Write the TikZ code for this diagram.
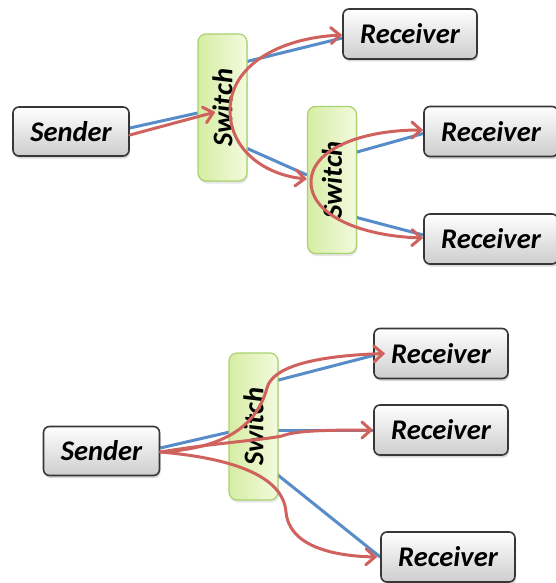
\documentclass[tikz,border=0pt]{standalone}
\usepackage{fontspec}
\setmainfont{Carlito}
\usetikzlibrary{arrows.meta,shadows,calc}
\definecolor{lnblue}{RGB}{88,140,200}
\definecolor{lnred}{RGB}{208,98,94}
\definecolor{boxborder}{RGB}{55,55,55}
\definecolor{boxbottom}{RGB}{205,205,205}
\definecolor{swborder}{RGB}{168,210,110}
\definecolor{swleft}{RGB}{214,237,164}
\definecolor{swright}{RGB}{243,250,222}
\pgfdeclarelayer{bg}
\pgfsetlayers{bg,main}
\tikzset{
  lbl/.style={font=\bfseries\itshape\fontsize{28.5}{28.5}\selectfont},
  hostbox/.style={lbl, draw=boxborder, line width=1.6pt, rounded corners=6pt,
    top color=white, bottom color=boxbottom, minimum height=49pt, inner sep=0pt,
    drop shadow={shadow xshift=1pt, shadow yshift=-2.5pt, opacity=0.3}},
  sendbox/.style={hostbox, minimum width=116pt},
  recvbox/.style={hostbox, minimum width=134pt, minimum height=50pt},
  switchbox/.style={draw=swborder, line width=1.2pt, rounded corners=8pt,
    left color=swleft, right color=swright, minimum width=49pt, minimum height=147pt,
    inner sep=0pt, drop shadow={shadow xshift=1pt, shadow yshift=-2.5pt, opacity=0.2}},
  switchtext/.style={lbl, rotate=90, inner sep=0pt},
  bluelink/.style={draw=lnblue, line width=3pt},
  redlink/.style={draw=lnred, line width=3pt, line cap=round,
    -{Straight Barb[length=9pt,width=16pt,line cap=round]}},
  redboth/.style={redlink, {Straight Barb[length=9pt,width=16pt,line cap=round]}-{Straight Barb[length=9pt,width=16pt,line cap=round]}}
}
\begin{document}
\begin{tikzpicture}[x=1pt,y=-1pt]
\useasboundingbox (0,0) rectangle (556,583);
% ---------- top network ----------
\node[sendbox] (snd1) at (71,131.5) {Sender};
\node[switchbox] (sw1) at (222.5,107.5) {};
\node[switchtext] (sw1t) at (sw1) {Switch};
\node[recvbox] (r1) at (410,34) {Receiver};
\node[switchbox] (sw2) at (332,180) {};
\node[switchtext] (sw2t) at (sw2) {Switch};
\node[recvbox] (r2) at (491,131.5) {Receiver};
\node[recvbox] (r3) at (491,239) {Receiver};
% ---------- bottom network ----------
\node[sendbox] (snd2) at (101.5,451) {Sender};
\node[switchbox] (sw3) at (253.5,426.5) {};
\node[switchtext] (sw3t) at (sw3) {Switch};
\node[recvbox] (r4) at (441,353.5) {Receiver};
\node[recvbox] (r5) at (441,430) {Receiver};
\node[recvbox] (r6) at (448,557) {Receiver};
% ---------- blue physical links ----------
\begin{pgfonlayer}{bg}
\draw[bluelink] ($(snd1.east)+(0,-3.5)$) -- (sw1.center);
\draw[bluelink] ($(sw1.center)+(0,-40)$) -- ($(r1.west)+(0,4)$);
\draw[bluelink] ($(sw1.center)+(0,30)$) -- ($(sw2.west)+(0,-5)$);
\draw[bluelink] ($(sw2.center)+(0,-21)$) -- ($(r2.west)+(0,2)$);
\draw[bluelink] ($(sw2.center)+(0,31)$) -- ($(r3.west)+(0,-4)$);
\draw[bluelink] ($(snd2.east)+(0,-3)$) -- (sw3.center);
\draw[bluelink] ($(sw3.center)+(0,-40)$) -- ($(r4.west)+(0,2)$);
\draw[bluelink] ($(sw3.center)+(0,3.5)$) -- (r5.west);
\draw[bluelink] ($(sw3.center)+(0,29)$) -- (r6.west);
\end{pgfonlayer}
% ---------- red data paths ----------
\coordinate (v1) at ($(sw1.center)+(7.5,3)$);
\coordinate (v2) at ($(sw2.center)+(-21,2)$);
\draw[redlink] ($(snd1.east)+(0,3.5)$) -- ($(sw1.west)+(18,4.5)$);
\draw[redboth] ($(sw2.west)+(0,-1)$) .. controls (265,175) and (230,150) .. (v1)
  .. controls (230,65) and (280,38) .. ($(r1.west)+(0,1)$);
\draw[redboth] ($(r3.west)+(0,-1)$) .. controls (360,236) and (311,215) .. (v2)
  .. controls (311,150) and (360,130) .. ($(r2.west)+(0,-1.5)$);
\coordinate (s2) at ($(snd2.east)+(0,1)$);
\coordinate (b1) at (267,388);
\coordinate (b2) at (282,436);
\coordinate (b3) at (286,512);
\draw[redlink] (s2) .. controls (215,449) and (255,432) .. (b1)
  .. controls (272,368) and (310,356) .. ($(r4.west)+(12,0)$);
\draw[redlink] (s2) .. controls (215,443) and (262,440) .. (b2)
  .. controls (294,431) and (320,430) .. (r5.west);
\draw[redlink] (s2) .. controls (230,458) and (283,475) .. (b3)
  .. controls (289,545) and (330,556) .. ($(r6.west)+(-3,0)$);
\end{tikzpicture}
\end{document}
